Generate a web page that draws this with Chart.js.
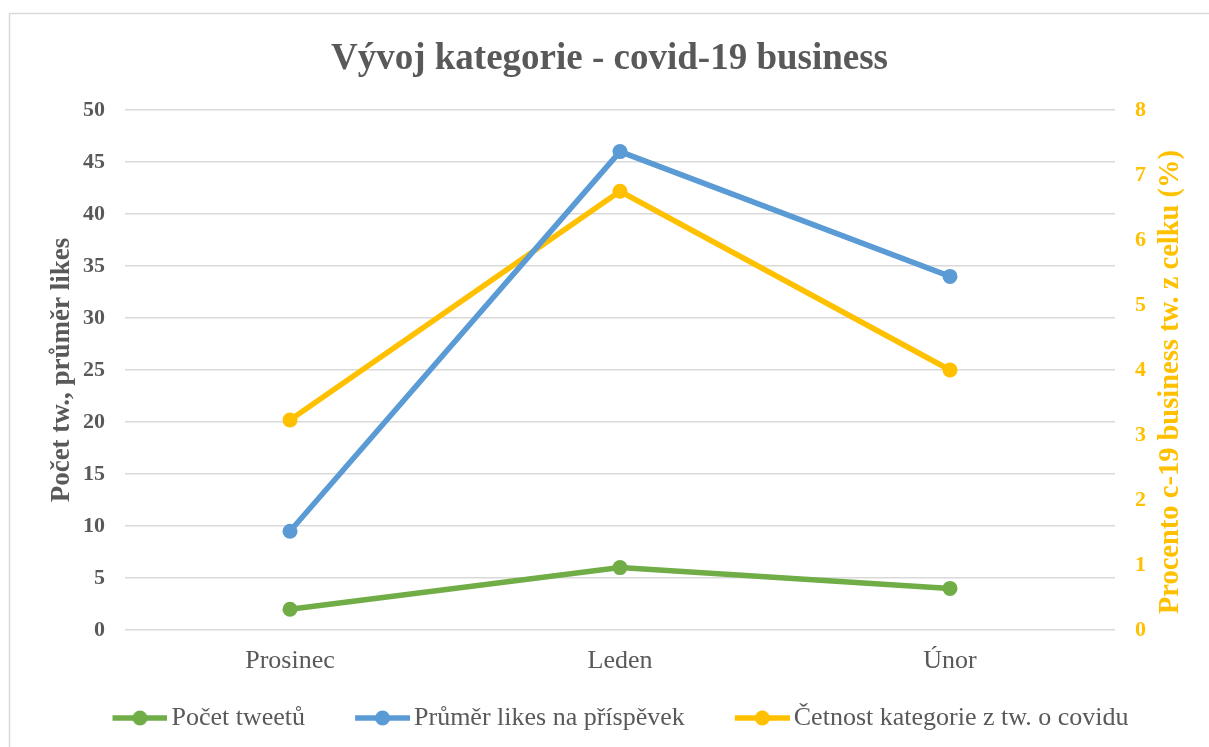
<!DOCTYPE html>
<html>
<head>
<meta charset="utf-8">
<script src="https://cdn.jsdelivr.net/npm/chart.js@4.4.1/dist/chart.umd.min.js"></script>
<style>
  html, body { margin: 0; padding: 0; background: #ffffff; }
  canvas { display: block; }
</style>
</head>
<body>
<canvas id="c" width="1209" height="747"></canvas>
<script>
const chartTitle = 'Vývoj kategorie - covid-19 business';
const categories = ['Prosinec', 'Leden', 'Únor'];
const seriesNames = ['Počet tweetů', 'Průměr likes na příspěvek', 'Četnost kategorie z tw. o covidu'];
const pocetTweetu = [2, 6, 4];
const prumerLikes = [9.5, 46, 34];
const cetnostKategorie = [3.23, 6.75, 4.0];
const leftAxisTitle = 'Počet tw., průměr likes';
const rightAxisTitle = 'Procento c-19 business tw. z celku (%)';
const leftTicks = [0, 5, 10, 15, 20, 25, 30, 35, 40, 45, 50];
const rightTicks = [0, 1, 2, 3, 4, 5, 6, 7, 8];

const GREEN = '#70AD47', BLUE = '#5B9BD5', YELLOW = '#FFC000', TEXT = '#595959', GRID = '#D9D9D9';
const FONT = "'Liberation Serif', 'Times New Roman', serif";

// legend symbol: line with a dot; transparent left part widens the gap between items
function legendMarker(color) {
  const cv = document.createElement('canvas');
  cv.width = 86; cv.height = 18;
  const g = cv.getContext('2d');
  g.strokeStyle = color; g.lineWidth = 5.5;
  g.beginPath(); g.moveTo(31, 9); g.lineTo(86, 9); g.stroke();
  g.fillStyle = color;
  g.beginPath(); g.arc(58.5, 9, 7.5, 0, Math.PI * 2); g.fill();
  return cv;
}
const markers = [legendMarker(GREEN), legendMarker(BLUE), legendMarker(YELLOW)];

const framePlugin = {
  id: 'frame',
  beforeDraw(chart) {
    const ctx = chart.ctx;
    ctx.save();
    ctx.strokeStyle = GRID; ctx.lineWidth = 1.5;
    ctx.beginPath();
    ctx.moveTo(9.5, 747); ctx.lineTo(9.5, 13.5); ctx.lineTo(1209, 13.5);
    ctx.stroke();
    ctx.restore();
  },
  afterDraw(chart) {
    const ctx = chart.ctx, a = chart.chartArea;
    ctx.save();
    ctx.translate(1171, (a.top + a.bottom) / 2 + 12);
    ctx.rotate(-Math.PI / 2);
    ctx.font = "bold 28.5px " + FONT;
    ctx.fillStyle = YELLOW;
    ctx.textAlign = 'center'; ctx.textBaseline = 'middle';
    ctx.fillText(rightAxisTitle, 0, 0);
    ctx.restore();
  }
};

function ds(label, data, color, axis) {
  return {
    label, data, yAxisID: axis,
    borderColor: color, backgroundColor: color,
    pointBackgroundColor: color, pointBorderColor: color,
    borderWidth: 5.5, pointRadius: 7.5, pointBorderWidth: 0, pointHoverRadius: 7.5,
    tension: 0, fill: false
  };
}

new Chart(document.getElementById('c'), {
  type: 'line',
  data: {
    labels: categories,
    datasets: [
      ds(seriesNames[0], pocetTweetu, GREEN, 'y'),
      ds(seriesNames[1], prumerLikes, BLUE, 'y'),
      ds(seriesNames[2], cetnostKategorie, YELLOW, 'y1')
    ]
  },
  options: {
    responsive: false,
    animation: false,
    layout: { padding: { left: 10, right: 0, top: 13, bottom: 6 } },
    plugins: {
      tooltip: { enabled: false },
      title: {
        display: true, text: chartTitle, color: TEXT,
        font: { family: FONT, size: 37, weight: 'bold' },
        padding: { top: 24, bottom: 28.6 }
      },
      legend: {
        position: 'bottom',
        labels: {
          color: TEXT,
          font: { family: FONT, size: 26 },
          usePointStyle: true, pointStyleWidth: 68, boxHeight: 18,
          padding: 28,
          generateLabels(chart) {
            return chart.data.datasets.map((d, i) => ({
              text: d.label, fillStyle: d.borderColor, strokeStyle: d.borderColor,
              fontColor: TEXT, lineWidth: 0, pointStyle: markers[i], datasetIndex: i, hidden: false
            }));
          }
        }
      }
    },
    scales: {
      x: {
        offset: true,
        grid: { display: false, drawTicks: false },
        border: { display: false },
        ticks: { color: TEXT, font: { family: FONT, size: 26 }, padding: 15.5 },
        afterFit(s) { s.height = 47; }
      },
      y: {
        position: 'left', min: 0, max: 50,
        afterBuildTicks(s) { s.ticks = leftTicks.map(v => ({ value: v })); },
        grid: { color: GRID, lineWidth: 1.5, drawTicks: false },
        border: { display: false },
        ticks: { color: TEXT, font: { family: FONT, size: 22, weight: 'bold' }, padding: 20 },
        title: {
          display: true, text: leftAxisTitle, color: TEXT,
          font: { family: FONT, size: 27, weight: 'bold' },
          padding: { top: 36, bottom: 0 }
        },
        afterFit(s) { s.width = 115; }
      },
      y1: {
        position: 'right', min: 0, max: 8,
        afterBuildTicks(s) { s.ticks = rightTicks.map(v => ({ value: v })); },
        grid: { display: false, drawTicks: false },
        border: { display: false },
        ticks: { color: YELLOW, font: { family: FONT, size: 22, weight: 'bold' }, padding: 20 },
        afterFit(s) { s.width = 94; }
      }
    }
  },
  plugins: [framePlugin]
});
</script>
</body>
</html>
